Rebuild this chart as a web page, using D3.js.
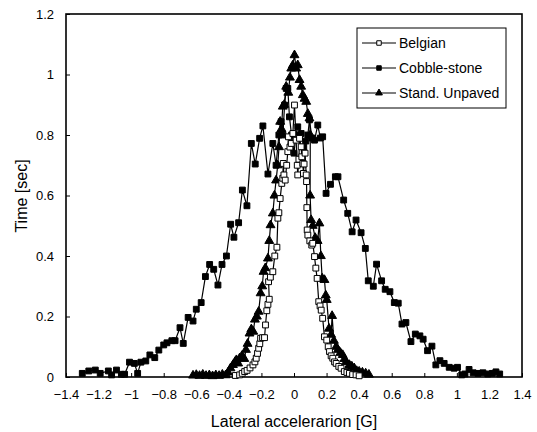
<!DOCTYPE html>
<html>
<head>
<meta charset="utf-8">
<script src="https://cdn.jsdelivr.net/npm/d3@7"></script>
<style>
  body { margin: 0; background: #fff; }
  svg { font-family: "Liberation Sans", Arial, sans-serif; }
  .axis path, .axis line { stroke: #000; }
  .axis text { fill: #000; font-size: 13px; }
</style>
</head>
<body>
<svg id="chart" width="537" height="432"></svg>
<script>
// tick values
const xTicks = [-1.4, -1.2, -1, -0.8, -0.6, -0.4, -0.2, 0, 0.2, 0.4, 0.6, 0.8, 1, 1.2, 1.4]
const yTicks = [0, 0.2, 0.4, 0.6, 0.8, 1, 1.2]

// [lateral acceleration G, time sec]
const belgian = [
  [-0.36, 0.005], [-0.334, 0.007], [-0.318, 0.012], [-0.303, 0.018], [-0.288, 0.022],
  [-0.27, 0.03], [-0.252, 0.04], [-0.24, 0.05], [-0.232, 0.062], [-0.224, 0.078],
  [-0.217, 0.095], [-0.21, 0.11], [-0.205, 0.128], [-0.193, 0.13], [-0.181, 0.13],
  [-0.175, 0.172], [-0.167, 0.219], [-0.16, 0.24], [-0.152, 0.257], [-0.156, 0.315],
  [-0.145, 0.33], [-0.13, 0.348], [-0.118, 0.4], [-0.105, 0.429], [-0.099, 0.525],
  [-0.093, 0.543], [-0.085, 0.59], [-0.075, 0.64], [-0.069, 0.657], [-0.066, 0.706],
  [-0.062, 0.668], [-0.054, 0.651], [-0.045, 0.7], [-0.038, 0.745], [-0.034, 0.794],
  [-0.025, 0.76], [-0.017, 0.772], [-0.007, 0.805], [0.003, 0.899], [0.013, 0.783],
  [0.02, 0.7], [0.023, 0.668], [0.03, 0.72], [0.034, 0.789], [0.044, 0.761],
  [0.048, 0.728], [0.054, 0.706], [0.058, 0.673], [0.062, 0.704], [0.068, 0.74],
  [0.075, 0.668], [0.077, 0.646], [0.079, 0.56], [0.081, 0.486], [0.085, 0.469],
  [0.097, 0.45], [0.109, 0.436], [0.115, 0.442], [0.126, 0.398], [0.134, 0.36],
  [0.142, 0.326], [0.152, 0.249], [0.16, 0.235], [0.167, 0.221], [0.176, 0.194],
  [0.187, 0.133], [0.201, 0.122], [0.21, 0.1], [0.218, 0.084], [0.228, 0.07],
  [0.238, 0.062], [0.249, 0.05], [0.259, 0.045], [0.275, 0.035], [0.289, 0.029],
  [0.309, 0.018], [0.325, 0.015], [0.34, 0.012], [0.36, 0.008], [0.381, 0.007], [0.4, 0.004]
]

const cobble = [
  [-1.3, 0.012], [-1.26, 0.02], [-1.22, 0.023], [-1.19, 0.012], [-1.14, 0.02],
  [-1.12, 0.007], [-1.09, 0.023], [-1.06, 0.009], [-1.04, 0.009], [-1.01, 0.049],
  [-0.98, 0.045], [-0.96, 0.012], [-0.94, 0.049], [-0.91, 0.053], [-0.885, 0.073],
  [-0.855, 0.064], [-0.83, 0.089], [-0.8, 0.106], [-0.78, 0.113], [-0.75, 0.12],
  [-0.73, 0.12], [-0.7, 0.163], [-0.68, 0.111], [-0.65, 0.197], [-0.62, 0.185],
  [-0.6, 0.224], [-0.57, 0.246], [-0.544, 0.332], [-0.518, 0.372], [-0.493, 0.356],
  [-0.467, 0.304], [-0.442, 0.372], [-0.415, 0.4], [-0.389, 0.505], [-0.369, 0.462],
  [-0.34, 0.51], [-0.317, 0.618], [-0.289, 0.566], [-0.262, 0.772], [-0.238, 0.704],
  [-0.211, 0.789], [-0.191, 0.83], [-0.16, 0.671], [-0.13, 0.772], [-0.11, 0.7],
  [-0.093, 0.8], [-0.079, 0.844], [-0.068, 0.8], [-0.058, 0.899], [-0.048, 0.954],
  [-0.038, 0.954], [-0.028, 0.86], [-0.015, 0.8], [0, 0.74], [0.012, 0.8],
  [0.023, 0.827], [0.044, 0.805], [0.06, 0.76], [0.073, 0.78], [0.085, 0.8],
  [0.095, 0.85], [0.11, 0.79], [0.126, 0.783], [0.146, 0.833], [0.162, 0.79],
  [0.176, 0.794], [0.197, 0.607], [0.224, 0.637], [0.254, 0.662], [0.27, 0.662],
  [0.305, 0.585], [0.33, 0.541], [0.357, 0.48], [0.381, 0.519], [0.412, 0.477],
  [0.438, 0.425], [0.456, 0.318], [0.487, 0.3], [0.507, 0.373], [0.538, 0.318],
  [0.56, 0.29], [0.589, 0.282], [0.616, 0.246], [0.64, 0.244], [0.663, 0.175],
  [0.687, 0.18], [0.718, 0.117], [0.745, 0.142], [0.773, 0.136], [0.793, 0.125],
  [0.82, 0.087], [0.847, 0.102], [0.871, 0.04], [0.896, 0.054], [0.922, 0.045],
  [0.953, 0.032], [0.983, 0.029], [1.004, 0.032], [1.03, 0.007], [1.05, 0.01],
  [1.075, 0.025], [1.1, 0.014], [1.13, 0.012], [1.16, 0.014], [1.19, 0.01],
  [1.218, 0.012], [1.24, 0.017], [1.263, 0.01]
]

const unpaved = [
  [-0.62, 0.005], [-0.6, 0.007], [-0.58, 0.004], [-0.56, 0.008], [-0.54, 0.004],
  [-0.52, 0.006], [-0.5, 0.003], [-0.48, 0.006], [-0.46, 0.004], [-0.44, 0.008],
  [-0.42, 0.006], [-0.405, 0.015], [-0.39, 0.029], [-0.375, 0.04], [-0.362, 0.05],
  [-0.354, 0.056], [-0.343, 0.045], [-0.334, 0.062], [-0.32, 0.07], [-0.305, 0.06],
  [-0.295, 0.09], [-0.285, 0.11], [-0.273, 0.144], [-0.262, 0.158], [-0.25, 0.15],
  [-0.24, 0.19], [-0.228, 0.2], [-0.217, 0.216], [-0.205, 0.277], [-0.195, 0.3],
  [-0.187, 0.348], [-0.176, 0.36], [-0.16, 0.392], [-0.152, 0.45], [-0.144, 0.502],
  [-0.13, 0.541], [-0.12, 0.6], [-0.11, 0.65], [-0.1, 0.7], [-0.092, 0.76],
  [-0.085, 0.844], [-0.077, 0.82], [-0.069, 0.894], [-0.06, 0.9], [-0.048, 0.96],
  [-0.035, 0.94], [-0.025, 0.99], [-0.017, 1.02], [-0.008, 1.03], [0.003, 1.064],
  [0.013, 1.02], [0.023, 1.031], [0.034, 0.982], [0.044, 0.96], [0.054, 0.932],
  [0.065, 0.92], [0.075, 0.91], [0.085, 0.87], [0.095, 0.855], [0.1, 0.8],
  [0.099, 0.6], [0.105, 0.519], [0.115, 0.5], [0.13, 0.46], [0.145, 0.45],
  [0.156, 0.508], [0.165, 0.4], [0.173, 0.326], [0.187, 0.321], [0.195, 0.27],
  [0.201, 0.255], [0.215, 0.16], [0.228, 0.14], [0.234, 0.202], [0.245, 0.12],
  [0.259, 0.1], [0.27, 0.09], [0.285, 0.08], [0.299, 0.073], [0.31, 0.06],
  [0.32, 0.05], [0.34, 0.04], [0.355, 0.035], [0.37, 0.029], [0.385, 0.02],
  [0.4, 0.018], [0.42, 0.015], [0.44, 0.012], [0.46, 0.008]
]

const seriesNames = ['Belgian', 'Cobble-stone', 'Stand. Unpaved']

const svg = d3.select('#chart')
const plotLeft = 66, plotRight = 522, plotTop = 14, plotBottom = 377

const x = d3.scaleLinear().domain([-1.4, 1.4]).range([plotLeft, plotRight])
const y = d3.scaleLinear().domain([0, 1.2]).range([plotBottom, plotTop])
const fmt = d3.format('~g')

// frame
svg.append('rect')
  .attr('x', plotLeft).attr('y', plotTop)
  .attr('width', plotRight - plotLeft).attr('height', plotBottom - plotTop)
  .attr('fill', 'none').attr('stroke', '#000').attr('stroke-width', 1.6)

svg.append('g')
  .attr('class', 'axis')
  .attr('transform', `translate(0,${plotBottom})`)
  .call(d3.axisBottom(x).tickValues(xTicks).tickFormat(fmt).tickSizeInner(-4).tickSizeOuter(0).tickPadding(13))
  .call(g => g.select('.domain').remove())

svg.append('g')
  .attr('class', 'axis')
  .attr('transform', `translate(${plotLeft},0)`)
  .call(d3.axisLeft(y).tickValues(yTicks).tickFormat(fmt).tickSizeInner(-4).tickSizeOuter(0).tickPadding(12))
  .call(g => g.select('.domain').remove())

svg.append('text')
  .attr('x', (plotLeft + plotRight) / 2).attr('y', 427)
  .attr('text-anchor', 'middle').attr('font-size', 16)
  .text('Lateral accelerarion [G]')

svg.append('text')
  .attr('transform', 'translate(27,196) rotate(-90)')
  .attr('text-anchor', 'middle').attr('font-size', 16)
  .text('Time [sec]')

const line = d3.line().x(d => x(d[0])).y(d => y(d[1]))
const square = d3.symbol().type(d3.symbolSquare).size(34)
const triangle = d3.symbol().type(d3.symbolTriangle).size(34)

function drawSeries(data, sym, fill) {
  const g = svg.append('g')
  g.append('path')
    .datum(data)
    .attr('d', line)
    .attr('fill', 'none')
    .attr('stroke', '#000')
    .attr('stroke-width', 1.2)
  g.selectAll('path.pt')
    .data(data)
    .enter().append('path')
    .attr('class', 'pt')
    .attr('transform', d => `translate(${x(d[0])},${y(d[1])})`)
    .attr('d', sym)
    .attr('fill', fill)
    .attr('stroke', '#000')
    .attr('stroke-width', 1)
}

drawSeries(cobble, square, '#000')
drawSeries(unpaved, triangle, '#000')
drawSeries(belgian, square, '#fff')

// legend
const legend = svg.append('g')
legend.append('rect')
  .attr('x', 357).attr('y', 28).attr('width', 149).attr('height', 80)
  .attr('fill', '#fff').attr('stroke', '#000').attr('stroke-width', 1)

const legendFills = ['#fff', '#000', '#000']
seriesNames.forEach((name, i) => {
  const ly = 43 + i * 25
  legend.append('line')
    .attr('x1', 362).attr('x2', 396).attr('y1', ly).attr('y2', ly)
    .attr('stroke', '#000').attr('stroke-width', 1.2)
  legend.append('path')
    .attr('transform', `translate(379,${ly})`)
    .attr('d', d3.symbol().type(i === 2 ? d3.symbolTriangle : d3.symbolSquare).size(20)())
    .attr('fill', legendFills[i]).attr('stroke', '#000')
  legend.append('text')
    .attr('x', 399).attr('y', ly + 5)
    .attr('font-size', 14)
    .text(name)
})
</script>
</body>
</html>
